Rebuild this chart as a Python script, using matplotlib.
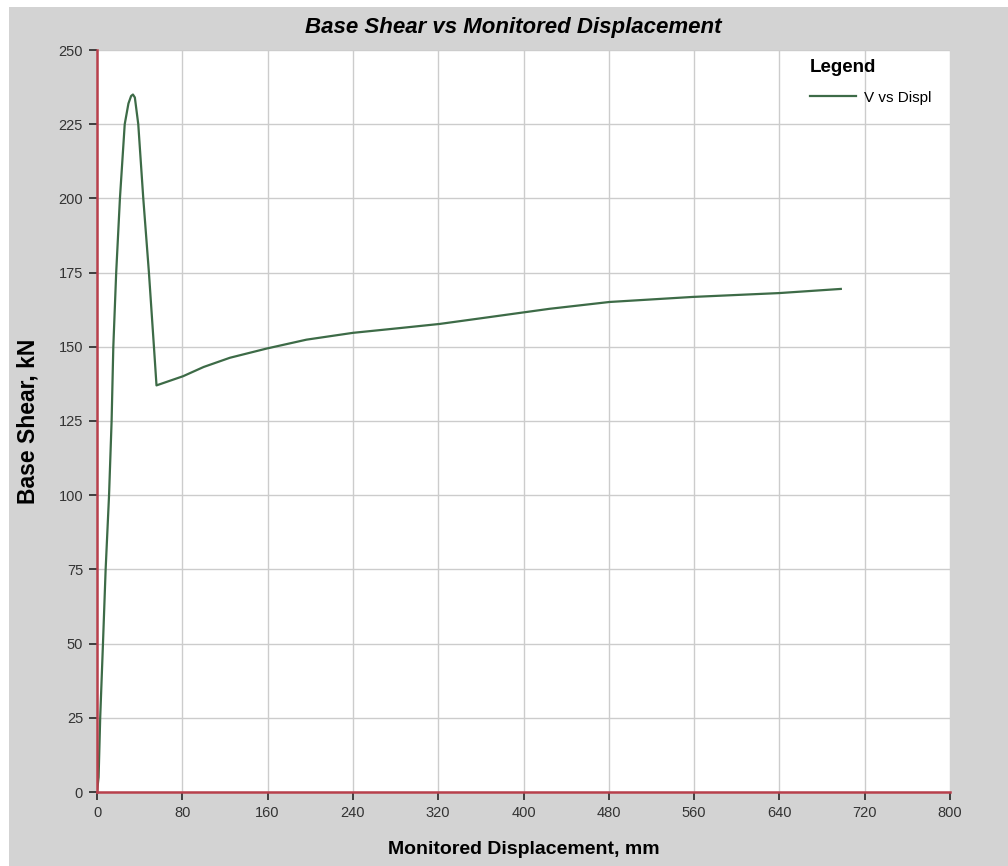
import matplotlib.pyplot as plt
from matplotlib.patches import Rectangle

# Pushover curve
disp = [0, 1.5, 3, 5.6, 8.1, 11.3, 13.7, 15.3, 18, 21.5, 26, 29.5, 32, 33.7,
        35.5, 38.7, 43.4, 48.7, 53.4, 55.8, 80.8, 100, 124.6, 159, 196.4,
        240, 283.8, 321.3, 361.9, 424.4, 480.6, 558.6, 639.8, 697.6]
shear = [0, 5, 25, 50, 75, 100, 125, 150, 175, 200, 225, 232, 234.5, 235,
         234, 225, 200, 175, 150, 137, 140.1, 143.2, 146.3, 149.4, 152.4,
         154.7, 156.3, 157.7, 159.7, 162.8, 165.1, 166.8, 168.1, 169.5]

x_ticks = [0, 80, 160, 240, 320, 400, 480, 560, 640, 720, 800]
y_ticks = [0, 25, 50, 75, 100, 125, 150, 175, 200, 225, 250]

plt.rcParams['font.family'] = ['Liberation Sans', 'DejaVu Sans']

fig = plt.figure(figsize=(10.08, 8.66), dpi=100, facecolor='white')
# fundal gri cu margine alba sus si stanga
fig.add_artist(Rectangle((9 / 1008, 0), 1, 1 - 7 / 866, transform=fig.transFigure,
                         facecolor='#d3d3d3', edgecolor='none', zorder=-10))

ax = fig.add_axes([97 / 1008, 74 / 866, 853 / 1008, 742 / 866])
ax.set_facecolor('white')
ax.plot(disp, shear, color='#3d6b47', lw=1.6, label='V vs Displ')

ax.set_xlim(0, 800)
ax.set_ylim(0, 250)
ax.set_xticks(x_ticks)
ax.set_yticks(y_ticks)
ax.grid(True, color='#cccccc', lw=1)
ax.set_axisbelow(True)

for s in ['top', 'right']:
    ax.spines[s].set_visible(False)
for s in ['left', 'bottom']:
    ax.spines[s].set_color('#b8404c')
    ax.spines[s].set_linewidth(1.8)

ax.tick_params(direction='out', length=6, width=1.3, color='#333333',
               labelsize=10.5, labelcolor='#333333', pad=4)

ax.set_title('Base Shear vs Monitored Displacement', fontsize=16, fontweight='bold',
             fontstyle='italic', pad=12, x=0.488)
ax.set_xlabel('Monitored Displacement, mm', fontsize=14, fontweight='bold', labelpad=15)
ax.set_ylabel('Base Shear, kN', fontsize=16.5, fontweight='bold', labelpad=14)

leg = ax.legend(title='Legend', frameon=False, loc='upper left',
                bbox_to_anchor=(0.82, 1.007), fontsize=11, handlelength=3.0,
                handletextpad=0.5, labelspacing=1.0,
                title_fontproperties={'weight': 'bold', 'size': 13.5})
leg._legend_box.align = 'left'

fig.savefig('out.png', dpi=100, facecolor=fig.get_facecolor())
